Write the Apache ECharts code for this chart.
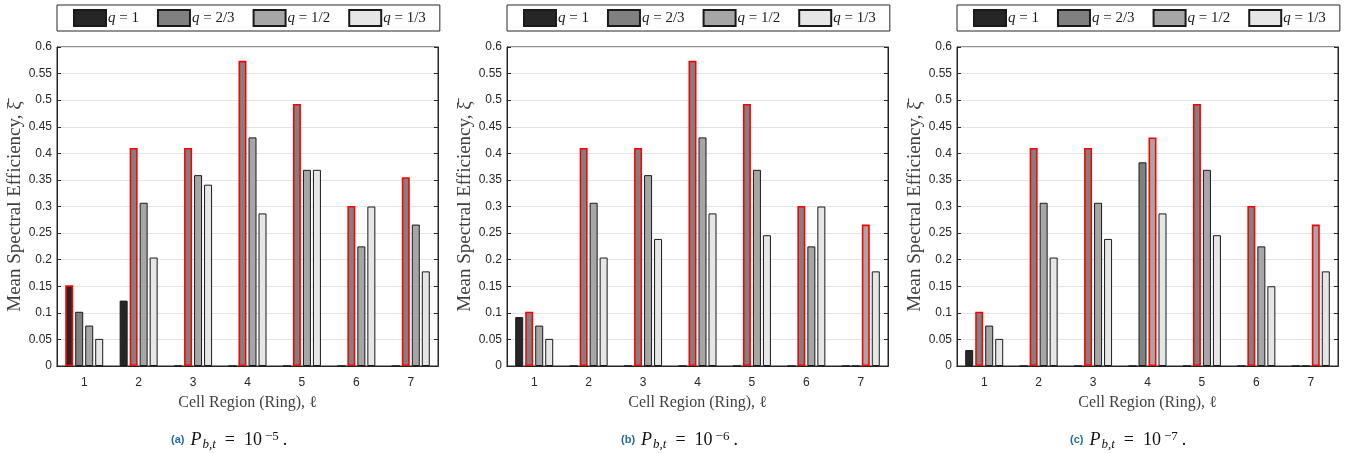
<!DOCTYPE html>
<html>
<head>
<meta charset="utf-8">
<script src="https://cdn.jsdelivr.net/npm/echarts@6/dist/echarts.min.js"></script>
<style>
html,body{margin:0;padding:0;background:#fff;}
#chart{width:1347px;height:453px;}
</style>
</head>
<body>
<div id="chart"></div>
<script>
// ---------- data ----------
const categories = ['1', '2', '3', '4', '5', '6', '7'];
const seriesNames = ['q = 1', 'q = 2/3', 'q = 1/2', 'q = 1/3'];
const captionLetters = ['(a)', '(b)', '(c)'];
const captionExponents = ['−5', '−6', '−7'];
const yMin = 0, yMax = 0.6, yStep = 0.05;

// panel (a): P_b,t = 1e-5
const a_q1  = [0.152, 0.123, 0, 0, 0, 0, 0];
const a_q23 = [0.102, 0.410, 0.410, 0.574, 0.493, 0.301, 0.355];
const a_q12 = [0.076, 0.307, 0.359, 0.430, 0.369, 0.225, 0.266];
const a_q13 = [0.051, 0.204, 0.341, 0.287, 0.369, 0.300, 0.178];
// panel (b): P_b,t = 1e-6
const b_q1  = [0.092, 0, 0, 0, 0, 0, 0];
const b_q23 = [0.102, 0.410, 0.410, 0.574, 0.493, 0.301, 0];
const b_q12 = [0.076, 0.307, 0.359, 0.430, 0.369, 0.225, 0.266];
const b_q13 = [0.051, 0.204, 0.239, 0.287, 0.246, 0.300, 0.178];
// panel (c): P_b,t = 1e-7
const c_q1  = [0.030, 0, 0, 0, 0, 0, 0];
const c_q23 = [0.102, 0.410, 0.410, 0.383, 0.493, 0.301, 0];
const c_q12 = [0.076, 0.307, 0.307, 0.430, 0.369, 0.225, 0.266];
const c_q13 = [0.051, 0.204, 0.239, 0.287, 0.246, 0.150, 0.178];

const panels = [[a_q1, a_q23, a_q12, a_q13], [b_q1, b_q23, b_q12, b_q13], [c_q1, c_q23, c_q12, c_q13]];

// ---------- styling / layout ----------
const barColors = ['#262626', '#808080', '#a6a6a6', '#e6e6e6'];
const panelLeft = [57, 507, 957];
const plotW = 381, plotTop = 47, plotH = 319;
const captionLeft = [166, 616, 1065];
const axisCol = '#262626';
const sans = 'Liberation Sans, Arial, sans-serif';
const serif = 'Liberation Serif, Times New Roman, serif';

const grids = [], xAxes = [], yAxes = [], series = [], legends = [], titles = [];

panels.forEach((panel, p) => {
  grids.push({left: panelLeft[p], top: plotTop, width: plotW, height: plotH,
    show: true, borderColor: axisCol, borderWidth: 1, containLabel: false});
  // bottom x
  xAxes.push({type: 'category', gridIndex: p, data: categories, position: 'bottom',
    name: 'Cell Region (Ring), ℓ', nameLocation: 'middle', nameGap: 29,
    nameTextStyle: {fontFamily: serif, fontSize: 16, color: '#404040'},
    axisLine: {lineStyle: {color: axisCol}},
    axisTick: {inside: true, length: 4, alignWithLabel: true, lineStyle: {color: axisCol}},
    axisLabel: {margin: 11, fontFamily: sans, fontSize: 12, color: axisCol}});
  // top x (ticks only)
  xAxes.push({type: 'category', gridIndex: p, data: categories, position: 'top',
    axisLine: {lineStyle: {color: axisCol}},
    axisTick: {inside: true, length: 4, alignWithLabel: true, lineStyle: {color: axisCol}},
    axisLabel: {show: false}});
  // left y
  yAxes.push({type: 'value', gridIndex: p, min: yMin, max: yMax, interval: yStep, position: 'left',
    name: 'Mean Spectral Efficiency, ξ̄', nameLocation: 'middle', nameGap: 29, nameRotate: 90,
    nameTextStyle: {fontFamily: serif, fontSize: 19, color: '#404040'},
    axisLine: {show: true, lineStyle: {color: axisCol}},
    axisTick: {show: true, inside: true, length: 4, lineStyle: {color: axisCol}},
    axisLabel: {margin: 5, fontFamily: sans, fontSize: 12, color: axisCol,
      formatter: v => String(+(+v).toFixed(2))},
    splitLine: {show: true, lineStyle: {color: '#e3e3e3', width: 1}}});
  // right y (ticks only)
  yAxes.push({type: 'value', gridIndex: p, min: yMin, max: yMax, interval: yStep, position: 'right',
    axisLine: {show: true, lineStyle: {color: axisCol}},
    axisTick: {show: true, inside: true, length: 4, lineStyle: {color: axisCol}},
    axisLabel: {show: false}, splitLine: {show: false}});

  // red highlight for the max in each ring
  const maxIdx = categories.map((_, k) => {
    let best = 0;
    panel.forEach((arr, s) => { if (arr[k] > panel[best][k]) best = s; });
    return best;
  });

  panel.forEach((arr, s) => {
    series.push({
      name: seriesNames[s], type: 'bar', xAxisIndex: 2 * p, yAxisIndex: 2 * p,
      barWidth: 8, barGap: '25%',
      itemStyle: {color: barColors[s], borderColor: '#1a1a1a', borderWidth: 1},
      emphasis: {disabled: true},
      data: arr.map((v, k) => maxIdx[k] === s
        ? {value: v, itemStyle: {borderColor: '#ff0000', borderWidth: 1.6}}
        : v),
      z: 2
    });
  });

  legends.push({
    left: panelLeft[p], top: 5, orient: 'horizontal',
    padding: [4, 14, 4, 16], itemGap: 18,
    itemWidth: 32, itemHeight: 16, icon: 'rect',
    borderColor: axisCol, borderWidth: 1, backgroundColor: '#fff',
    selectedMode: false,
    data: seriesNames,
    formatter: name => '{i|q}{n| = ' + name.slice(4) + '}',
    textStyle: {fontFamily: serif, fontSize: 15, color: '#1a1a1a', padding: [0, 0, 0, -3],
      rich: {
        i: {fontFamily: serif, fontStyle: 'italic', fontSize: 15, color: '#1a1a1a'},
        n: {fontFamily: serif, fontSize: 15, color: '#1a1a1a'}
      }}
  });

  titles.push({
    left: captionLeft[p], top: 423,
    text: '{b|' + captionLetters[p] + '}{i|P}{sub|b,t}{n|=}{m|10}{sup|' + captionExponents[p] + '}{d|.}',
    textStyle: {
      fontWeight: 'normal',
      rich: {
        b: {fontFamily: sans, fontWeight: 'bold', fontSize: 11, color: '#1f6aa8', lineHeight: 24, padding: [0, 6, 0, 0]},
        i: {fontFamily: serif, fontStyle: 'italic', fontWeight: 'normal', fontSize: 18, color: '#111', lineHeight: 24},
        sub: {fontFamily: serif, fontStyle: 'italic', fontWeight: 'normal', fontSize: 13, color: '#111', lineHeight: 24, verticalAlign: 'bottom', padding: [0, 0, 1, 1]},
        n: {fontFamily: serif, fontWeight: 'normal', fontSize: 18, color: '#111', lineHeight: 24, padding: [0, 9, 0, 9]},
        m: {fontFamily: serif, fontWeight: 'normal', fontSize: 18, color: '#111', lineHeight: 24},
        sup: {fontFamily: serif, fontWeight: 'normal', fontSize: 13, color: '#111', lineHeight: 24, verticalAlign: 'top', padding: [2, 4, 0, 3]},
        d: {fontFamily: serif, fontWeight: 'normal', fontSize: 18, color: '#111', lineHeight: 24}
      }
    }
  });
});

const chart = echarts.init(document.getElementById('chart'), null, {renderer: 'canvas'});
chart.setOption({
  animation: false,
  backgroundColor: '#ffffff',
  title: titles,
  legend: legends,
  grid: grids,
  xAxis: xAxes,
  yAxis: yAxes,
  series: series
});
</script>
</body>
</html>
